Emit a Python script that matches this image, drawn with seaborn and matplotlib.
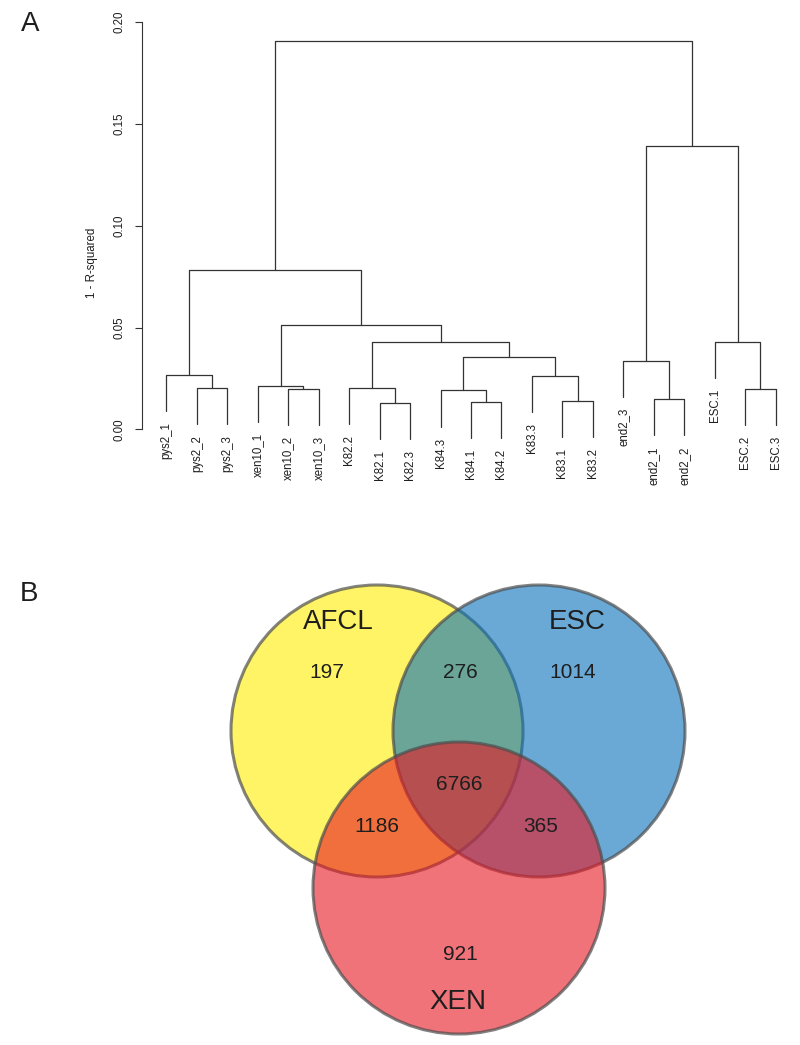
import numpy as np
import pandas as pd
import seaborn as sns
import matplotlib
matplotlib.use("Agg")
import matplotlib.pyplot as plt
from matplotlib.patches import Circle

# ---- panel A: hierarchical clustering (R-style merge matrix) ----
leaf_labels = ["pys2_1", "pys2_2", "pys2_3", "xen10_1", "xen10_2", "xen10_3",
               "K82.2", "K82.1", "K82.3", "K84.3", "K84.1", "K84.2",
               "K83.3", "K83.1", "K83.2", "end2_3", "end2_1", "end2_2",
               "ESC.1", "ESC.2", "ESC.3"]
# negative = leaf number (1-based, plot order), positive = earlier merge row
merge_left = [-8, -11, -14, -17, -10, -20, -2, -5, -7, -4,
              -13, -1, -16, 5, 9, -19, 10, 12, 13, 18]
merge_right = [-9, -12, -15, -18, 2, -21, -3, -6, 1, 8,
               3, 7, 4, 11, 14, 6, 15, 17, 16, 19]
merge_height = [0.0132, 0.0136, 0.0140, 0.0148, 0.0192, 0.0200, 0.0202, 0.0201, 0.0204, 0.0215,
                0.0264, 0.0266, 0.0338, 0.0354, 0.0428, 0.0431, 0.0513, 0.0783, 0.1390, 0.1908]
yticks = [0.00, 0.05, 0.10, 0.15, 0.20]

# ---- panel B: Venn diagram ----
set_names = ["AFCL", "ESC", "XEN"]
set_colors = ["#FFEE00", "#0771BB", "#E91621"]
region_names = ["AFCL", "AFCL&ESC", "ESC", "AFCL&ESC&XEN", "AFCL&XEN", "ESC&XEN", "XEN"]
region_counts = [197, 276, 1014, 6766, 1186, 365, 921]

sns.set_theme(style="white")
plt.rcParams["font.family"] = ["Liberation Sans", "DejaVu Sans"]
text_col = "#1e1e1e"

fig = plt.figure(figsize=(8, 10.45), dpi=100)

# build dendrogram segments
hang = 0.1 * (max(merge_height) - min(merge_height))
node_x, node_h = {}, {}
leaf_end = {}
rows = []
for i, (a, b, h) in enumerate(zip(merge_left, merge_right, merge_height)):
    pts = []
    for c in (a, b):
        if c < 0:
            cx, cy = float(-c), h - hang
            leaf_end[-c] = cy
        else:
            cx, cy = node_x[c], node_h[c]
        pts.append((cx, cy))
    node_x[i + 1] = (pts[0][0] + pts[1][0]) / 2
    node_h[i + 1] = h
    shape = [pts[0], (pts[0][0], h), (pts[1][0], h), pts[1]]
    for k, (x, y) in enumerate(shape):
        rows.append({"seg": i, "order": k, "x": x, "y": y})
seg_df = pd.DataFrame(rows)

top_px, bot_px = 22, 503
ax_a = fig.add_axes([142 / 800, 1 - bot_px / 1045, 658 / 800, (bot_px - top_px) / 1045])
sns.lineplot(data=seg_df, x="x", y="y", units="seg", estimator=None, sort=False,
             color="#333333", lw=0.9, ax=ax_a, legend=False)
for j, lab in enumerate(leaf_labels):
    ax_a.annotate(lab, xy=(j + 1, leaf_end[j + 1]), xytext=(0, -8), textcoords="offset points",
                  rotation=90, ha="center", va="top", fontsize=8.3, color=text_col)

ax_a.set_xlim(0.2, len(leaf_labels) + 0.8)
ax_a.set_ylim(-0.0361, 0.2)
ax_a.set_xticks([])
ax_a.set_yticks(yticks)
ax_a.set_yticklabels([f"{t:.2f}" for t in yticks], rotation=90, va="center", fontsize=8.3, color=text_col)
ax_a.tick_params(axis="y", left=True, length=5, width=0.8, color="#333333", pad=7)
for s in ("top", "right", "bottom"):
    ax_a.spines[s].set_visible(False)
ax_a.spines["left"].set_bounds(0, 0.2)
ax_a.spines["left"].set_color("#333333")
ax_a.spines["left"].set_linewidth(0.8)
ax_a.set_xlabel("")
ax_a.set_ylabel("1 - R-squared", fontsize=8.3, color=text_col)
ax_a.yaxis.set_label_coords(-0.0669, 0.5)

# Venn diagram
ax_b = fig.add_axes([0, 0, 1, 485 / 1045])
ax_b.set_xlim(0, 800)
ax_b.set_ylim(1045, 560)
ax_b.axis("off")
r = 146
centers = [(377, 731), (539, 731), (459, 888)]
for (cx, cy), col in zip(centers, set_colors):
    rgb = matplotlib.colors.to_rgb(col)
    ax_b.add_patch(Circle((cx, cy), r, facecolor=(*rgb, 0.6),
                          edgecolor=(0.3, 0.3, 0.3, 0.7), lw=2.2))

name_pos = [(338, 622), (577, 622), (458, 1002)]
for name, (x, y) in zip(set_names, name_pos):
    ax_b.text(x, y, name, ha="center", va="center", fontsize=20, color=text_col)

count_pos = [(327, 672), (460, 672), (573, 672), (459, 784), (377, 826), (541, 826), (460, 955)]
for cnt, (x, y) in zip(region_counts, count_pos):
    ax_b.text(x, y, str(cnt), ha="center", va="center", fontsize=15, color=text_col)

fig.text(30 / 800, 1 - 24 / 1045, "A", ha="center", va="center", fontsize=20, color=text_col)
fig.text(29 / 800, 1 - 594 / 1045, "B", ha="center", va="center", fontsize=20, color=text_col)

fig.savefig("out.png", dpi=100)
